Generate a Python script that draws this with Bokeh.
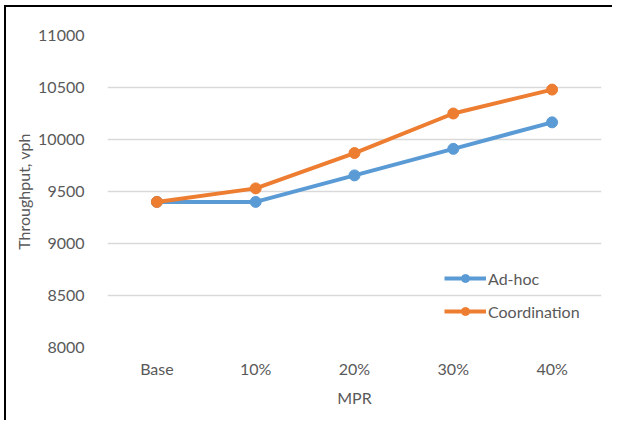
from bokeh.plotting import figure
from bokeh.models import FactorRange, Range1d, Legend, LegendItem, FixedTicker
from bokeh.embed import file_html
from bokeh.resources import INLINE

categories = ["Base", "10%", "20%", "30%", "40%"]
adhoc = [9400, 9400, 9655, 9910, 10165]
coordination = [9400, 9530, 9870, 10250, 10480]
y_ticks = [8000, 8500, 9000, 9500, 10000, 10500, 11000]

FONT = "Lato"
GREY = "#595959"
BLUE = "#5B9BD5"
ORANGE = "#ED7D31"

p = figure(x_range=FactorRange(*categories, range_padding=0),
           y_range=Range1d(8000, 11000),
           width=608, height=415, output_backend="svg", toolbar_location=None,
           min_border_left=101, min_border_right=13, min_border_top=28, min_border_bottom=75)
p.margin = (7, 0, 0, 6)
# top and left edges of the surrounding box
p.styles = {"box-shadow": "-2px -2px 0 0 black", "background-color": "white"}
p.outline_line_color = None
p.background_fill_color = "white"
p.border_fill_color = "white"

p.xgrid.grid_line_color = None
p.ygrid.grid_line_color = "#D9D9D9"
p.ygrid.grid_line_width = 1.3
p.yaxis.ticker = FixedTicker(ticks=y_ticks)

for ax in (p.xaxis[0], p.yaxis[0]):
    ax.axis_line_color = None
    ax.major_tick_line_color = None
    ax.minor_tick_line_color = None
    ax.major_label_text_font = FONT
    ax.major_label_text_font_size = "16px"
    ax.major_label_text_color = GREY
    ax.axis_label_text_font = FONT
    ax.axis_label_text_font_size = "16px"
    ax.axis_label_text_color = GREY
    ax.axis_label_text_font_style = "normal"

p.yaxis.major_label_standoff = 17
p.xaxis.major_label_standoff = 5
p.yaxis.axis_label = "Throughput, vph"
p.xaxis.axis_label = "MPR"
p.yaxis.axis_label_standoff = 2
p.xaxis.axis_label_standoff = 7

l1 = p.line(categories, adhoc, line_color=BLUE, line_width=4)
s1 = p.scatter(categories, adhoc, size=11, fill_color=BLUE, line_color=BLUE)
l2 = p.line(categories, coordination, line_color=ORANGE, line_width=4)
s2 = p.scatter(categories, coordination, size=11, fill_color=ORANGE, line_color=ORANGE)

legend = Legend(items=[LegendItem(label="Ad-hoc", renderers=[l1, s1]),
                       LegendItem(label="Coordination", renderers=[l2, s2])],
                location=(337, 26), padding=0, margin=0, spacing=13,
                glyph_width=42, glyph_height=20, label_height=20,
                label_standoff=2, border_line_color=None,
                background_fill_alpha=0,
                label_text_font=FONT, label_text_font_size="16px",
                label_text_color=GREY)
p.add_layout(legend)

open("out.html", "w").write(file_html(p, INLINE))
